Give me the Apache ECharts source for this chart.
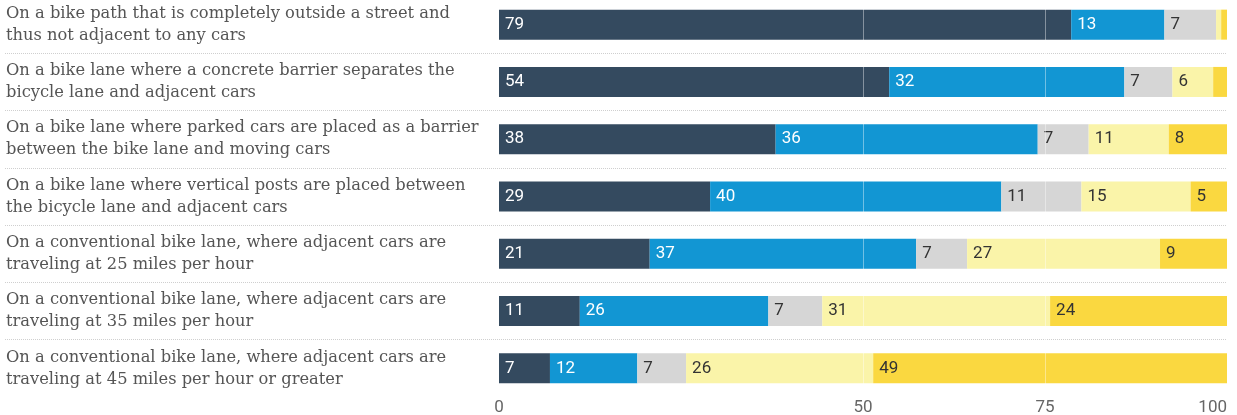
<!DOCTYPE html>
<html>
<head>
<meta charset="utf-8">
<script src="https://cdn.jsdelivr.net/npm/echarts@6/dist/echarts.min.js"></script>
<style>
html,body{margin:0;padding:0;background:#fff;}
#c{width:1237px;height:415px;}
</style>
</head>
<body>
<div id="c"></div>
<script>
const categories = [
  "On a bike path that is completely outside a street and\nthus not adjacent to any cars",
  "On a bike lane where a concrete barrier separates the\nbicycle lane and adjacent cars",
  "On a bike lane where parked cars are placed as a barrier\nbetween the bike lane and moving cars",
  "On a bike lane where vertical posts are placed between\nthe bicycle lane and adjacent cars",
  "On a conventional bike lane, where adjacent cars are\ntraveling at 25 miles per hour",
  "On a conventional bike lane, where adjacent cars are\ntraveling at 35 miles per hour",
  "On a conventional bike lane, where adjacent cars are\ntraveling at 45 miles per hour or greater"
];
const seriesNames = ["Very comfortable", "Somewhat comfortable", "Neutral", "Somewhat uncomfortable", "Very uncomfortable"];
const veryComfortable      = [78.6, 53.6, 38, 29, 20.7, 11.1, 7.0];
const somewhatComfortable  = [12.8, 32.3, 36, 40, 36.6, 25.9, 12.0];
const neutral              = [7.1, 6.6, 7, 11, 7.0, 7.4, 6.7];
const somewhatUncomfortable= [0.7, 5.6, 11, 15, 26.5, 31.3, 25.7];
const veryUncomfortable    = [0.8, 1.9, 8, 5, 9.2, 24.3, 48.6];
const tickValues = [0, 50, 75, 100];
const gridValues = [50, 75];
const rowCount = categories.length;

const colors = ["#344a5f", "#1296d3", "#d6d6d6", "#faf4a9", "#fad840"];
const labelColors = ["#ffffff", "#ffffff", "#333333", "#333333", "#333333"];
const allData = [veryComfortable, somewhatComfortable, neutral, somewhatUncomfortable, veryUncomfortable];

const labelFont = "Roboto, 'Noto Sans', sans-serif";

const series = allData.map((d, i) => {
  const s = {
    name: seriesNames[i],
    type: 'bar',
    stack: 'total',
    data: d,
    barWidth: 30,
    xAxisIndex: 0,
    yAxisIndex: 0,
    itemStyle: { color: colors[i] },
    label: {
      show: true,
      position: 'insideLeft',
      distance: 6,
      color: labelColors[i],
      fontFamily: labelFont,
      fontSize: 17,
      formatter: p => p.value >= 3 ? String(Math.round(p.value)) : ''
    },
    emphasis: { disabled: true },
    animation: false
  };
  if (i === allData.length - 1) {
    s.markLine = {
      silent: true,
      symbol: 'none',
      label: { show: false },
      lineStyle: { color: 'rgba(255,255,255,0.4)', type: 'solid', width: 1 },
      data: gridValues.map(v => ({ xAxis: v })),
      animation: false
    };
  }
  return s;
});

const chart = echarts.init(document.getElementById('c'), null, { renderer: 'canvas' });
chart.setOption({
  animation: false,
  grid: [
    { left: 499, right: 10, top: -4, bottom: 18, containLabel: false, outerBoundsMode: 'none' },
    { left: 5, right: 10, top: -4, bottom: 18, containLabel: false, outerBoundsMode: 'none' }
  ],
  xAxis: [
    {
      type: 'value', gridIndex: 0, min: 0, max: 100,
      axisLine: { show: false }, axisTick: { show: false },
      splitLine: { show: false },
      axisLabel: {
        customValues: tickValues,
        color: '#666',
        fontFamily: labelFont,
        fontSize: 17,
        margin: 2,
        alignMaxLabel: 'right'
      }
    },
    { type: 'value', gridIndex: 1, min: 0, max: 1, show: false }
  ],
  yAxis: [
    {
      type: 'category', gridIndex: 0, data: categories, inverse: true,
      axisLine: { show: false }, axisTick: { show: false },
      splitLine: { show: false },
      axisLabel: {
        align: 'left',
        margin: 493,
        color: '#555',
        fontFamily: "'DejaVu Serif', 'Liberation Serif', serif",
        fontSize: 16.3,
        lineHeight: 22
      }
    },
    {
      type: 'value', gridIndex: 1, min: 0, max: rowCount, interval: 1, inverse: true,
      axisLine: { show: false }, axisTick: { show: false }, axisLabel: { show: false },
      splitLine: {
        show: true, showMinLine: false, showMaxLine: false,
        lineStyle: { color: '#cfcfcf', type: [1, 1], width: 1 }
      }
    }
  ],
  series: series
});
</script>
</body>
</html>
